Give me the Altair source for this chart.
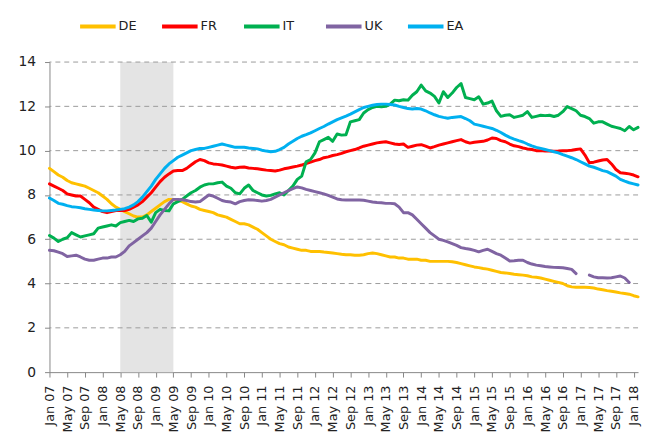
import altair as alt
import pandas as pd

# ---- data (monthly, Jan 2007 .. Feb 2018) ----
series_names = ["DE", "FR", "IT", "UK", "EA"]
series_colors = ["#FFC000", "#FF0000", "#00B050", "#8064A2", "#00B0F0"]
month_abbr = ["Jan", "Feb", "Mar", "Apr", "May", "Jun",
              "Jul", "Aug", "Sep", "Oct", "Nov", "Dec"]
first_year = 7          # 2007
n_months = 134          # Jan 07 .. Feb 18
recession_start = 16    # May 08 (month index)
recession_end = 28      # May 09 (month index)

de = [
    9.2, 9.05, 8.9, 8.8, 8.65, 8.55, 8.5, 8.45, 8.4, 8.3, 8.2, 8.1,
    7.95, 7.8, 7.6, 7.45, 7.35, 7.25, 7.15, 7.05, 7.0, 7.0, 7.1, 7.25,
    7.4, 7.55, 7.7, 7.8, 7.8, 7.75, 7.7, 7.6, 7.5, 7.45, 7.35, 7.3,
    7.25, 7.2, 7.1, 7.05, 7.0, 6.9, 6.8, 6.7, 6.7, 6.65, 6.55, 6.45,
    6.3, 6.15, 6.0, 5.9, 5.8, 5.75, 5.65, 5.6, 5.55, 5.5, 5.5, 5.45,
    5.45, 5.45, 5.42, 5.4, 5.38, 5.35, 5.32, 5.3, 5.3, 5.28, 5.28, 5.3,
    5.35, 5.38, 5.35, 5.3, 5.25, 5.2, 5.2, 5.15, 5.15, 5.1, 5.1, 5.1,
    5.05, 5.05, 5.0, 5.0, 5.0, 5.0, 5.0, 4.98, 4.95, 4.9, 4.85, 4.8,
    4.75, 4.72, 4.68, 4.65, 4.6, 4.55, 4.5, 4.48, 4.45, 4.42, 4.4, 4.38,
    4.35, 4.3, 4.28, 4.25, 4.2, 4.15, 4.1, 4.05, 4.0, 3.9, 3.85, 3.83,
    3.83, 3.83, 3.82, 3.8, 3.75, 3.72, 3.68, 3.65, 3.62, 3.58, 3.55, 3.52,
    3.45, 3.4,
]

fr = [
    8.5, 8.4, 8.3, 8.2, 8.05, 8.0, 7.95, 7.95, 7.8, 7.65, 7.45, 7.35,
    7.25, 7.2, 7.25, 7.3, 7.3, 7.3, 7.35, 7.45, 7.55, 7.7, 7.9, 8.1,
    8.35, 8.6, 8.8, 8.95, 9.08, 9.1, 9.1, 9.2, 9.35, 9.5, 9.6, 9.55,
    9.45, 9.4, 9.38, 9.35, 9.3, 9.25, 9.22, 9.25, 9.26, 9.22, 9.2, 9.18,
    9.15, 9.12, 9.1, 9.08, 9.12, 9.18, 9.22, 9.26, 9.3, 9.35, 9.42, 9.48,
    9.55, 9.6, 9.68, 9.72, 9.78, 9.82, 9.88, 9.95, 10.0, 10.05, 10.12, 10.2,
    10.25, 10.3, 10.35, 10.38, 10.4, 10.35, 10.3, 10.28, 10.3, 10.15, 10.2, 10.25,
    10.27, 10.2, 10.12, 10.18, 10.25, 10.3, 10.35, 10.4, 10.45, 10.5, 10.4, 10.34,
    10.38, 10.4, 10.42, 10.48, 10.57, 10.55, 10.45, 10.4, 10.3, 10.22, 10.18, 10.12,
    10.08, 10.05, 10.0, 10.0, 9.98, 9.98, 9.97, 9.98, 10.0, 10.0, 10.02, 10.05,
    10.08, 9.8, 9.45, 9.48, 9.53, 9.58, 9.6, 9.4, 9.15, 9.0, 8.98, 8.95,
    8.9, 8.82,
]

it = [
    6.17, 6.05, 5.9, 6.0, 6.07, 6.3, 6.2, 6.1, 6.15, 6.2, 6.25, 6.5,
    6.55, 6.6, 6.65, 6.6, 6.75, 6.8, 6.85, 6.8, 6.92, 6.95, 7.07, 6.77,
    7.2, 7.35, 7.3, 7.28, 7.6, 7.7, 7.8, 7.95, 8.1, 8.2, 8.35, 8.45,
    8.5, 8.5, 8.55, 8.58, 8.4, 8.3, 8.1, 8.05, 8.3, 8.45, 8.2, 8.1,
    8.0, 7.95, 7.98, 8.05, 8.1, 8.0, 8.2, 8.4, 8.7, 8.85, 9.5, 9.6,
    9.9, 10.4, 10.5, 10.6, 10.42, 10.75, 10.7, 10.72, 11.3, 11.35, 11.4, 11.7,
    11.85, 11.95, 12.0, 11.98, 12.0, 12.1, 12.28, 12.25, 12.3, 12.28, 12.5, 12.66,
    12.96, 12.7, 12.6, 12.45, 12.15, 12.66, 12.4, 12.6, 12.85, 13.03, 12.4, 12.35,
    12.3, 12.43, 12.1, 12.15, 12.24, 11.8, 11.55, 11.6, 11.62, 11.5, 11.55, 11.6,
    11.76, 11.5, 11.55, 11.6, 11.58, 11.6, 11.54, 11.6, 11.76, 11.99, 11.9, 11.8,
    11.6, 11.54, 11.45, 11.24, 11.3, 11.3, 11.2, 11.1, 11.05, 11.0, 10.9, 11.09,
    10.94, 11.05,
]

uk = [
    5.5, 5.48, 5.42, 5.35, 5.22, 5.25, 5.28, 5.2, 5.1, 5.05, 5.05, 5.1,
    5.15, 5.15, 5.2, 5.2, 5.3, 5.45, 5.7, 5.85, 6.0, 6.15, 6.3, 6.5,
    6.8, 7.1, 7.35, 7.6, 7.8, 7.8, 7.78, 7.75, 7.7, 7.68, 7.7, 7.85,
    8.0, 7.95, 7.85, 7.75, 7.7, 7.68, 7.6, 7.7, 7.75, 7.78, 7.77, 7.75,
    7.72, 7.75, 7.8, 7.9, 8.0, 8.1, 8.2, 8.28, 8.36, 8.32, 8.25, 8.2,
    8.15, 8.1, 8.05, 7.98, 7.9, 7.82, 7.78, 7.77, 7.77, 7.77, 7.77, 7.76,
    7.72, 7.68, 7.66, 7.65, 7.62, 7.62, 7.6, 7.45, 7.2, 7.2, 7.1, 6.9,
    6.7, 6.5, 6.3, 6.15, 6.0, 5.95, 5.88, 5.8, 5.72, 5.62, 5.58, 5.55,
    5.5, 5.43, 5.5, 5.55, 5.45, 5.35, 5.28, 5.15, 5.02, 5.03, 5.05, 5.05,
    4.95, 4.88, 4.83, 4.8, 4.77, 4.75, 4.73, 4.72, 4.71, 4.68, 4.64, 4.45,
    None, None, 4.38, 4.3, 4.26, 4.26, 4.25, 4.26, 4.3, 4.34, 4.25, 4.05,
    None, None,
]

ea = [
    7.86, 7.75, 7.62, 7.58, 7.52, 7.47, 7.45, 7.42, 7.38, 7.35, 7.32, 7.3,
    7.28, 7.28, 7.3, 7.32, 7.35, 7.38, 7.45, 7.55, 7.7, 7.9, 8.15, 8.4,
    8.7, 8.95, 9.2, 9.4, 9.55, 9.7, 9.8, 9.9, 10.0, 10.05, 10.1, 10.1,
    10.15, 10.2, 10.25, 10.3, 10.25, 10.2, 10.15, 10.15, 10.15, 10.12, 10.1, 10.08,
    10.02, 9.98, 9.95, 9.97, 10.05, 10.15, 10.3, 10.42, 10.55, 10.65, 10.72, 10.8,
    10.9, 11.0, 11.09, 11.2, 11.3, 11.4, 11.48, 11.56, 11.65, 11.75, 11.85, 11.95,
    12.0, 12.05, 12.08, 12.1, 12.1, 12.08, 12.06, 12.0, 11.95, 11.9, 11.88, 11.9,
    11.88, 11.8, 11.7, 11.62, 11.55, 11.5, 11.46, 11.5, 11.52, 11.54, 11.45, 11.35,
    11.2, 11.15, 11.1, 11.05, 11.0, 10.92, 10.82, 10.7, 10.6, 10.52, 10.45, 10.39,
    10.3, 10.22, 10.15, 10.1, 10.05, 10.0, 9.95, 9.9, 9.82, 9.75, 9.68, 9.6,
    9.5, 9.4, 9.3, 9.25, 9.18, 9.1, 9.05, 8.95, 8.85, 8.7, 8.62, 8.55,
    8.5, 8.45,
]

y_ticks = [0, 2, 4, 6, 8, 10, 12, 14]
grid_values = [2, 4, 6, 8, 10, 12, 14]
x_ticks = list(range(0, n_months, 4))

# ---- build tables ----
rows = []
for name, vals in zip(series_names, [de, fr, it, uk, ea]):
    for i, v in enumerate(vals):
        rows.append({"month": i, "series": name, "value": v})
df = pd.DataFrame(rows)
df["value"] = pd.to_numeric(df["value"])

band_df = pd.DataFrame({"start": [recession_start], "end": [recession_end],
                        "lo": [y_ticks[0]], "hi": [y_ticks[-1]]})
grid_df = pd.DataFrame({"level": grid_values})

FONT = "DejaVu Sans"
abbr_js = "[" + ",".join("'%s'" % m for m in month_abbr) + "]"
label_expr = (abbr_js + "[datum.value % 12] + ' ' + format(" + str(first_year)
              + " + floor(datum.value / 12), '02d')")

x_scale = alt.Scale(domain=[0, n_months - 1], nice=False, zero=False)
y_scale = alt.Scale(domain=[y_ticks[0], y_ticks[-1]], nice=False)

x_axis = alt.Axis(values=x_ticks, labelExpr=label_expr, labelAngle=270,
                  title=None, grid=False, tickSize=5, labelPadding=8,
                  labelFontSize=13, labelOverlap=False, labelFlush=False,
                  labelBound=False)
y_axis = alt.Axis(values=y_ticks, title=None, grid=False, tickSize=5,
                  labelPadding=9, labelFontSize=14)

band = alt.Chart(band_df).mark_rect(fill="#E4E4E4", strokeWidth=0).encode(
    x=alt.X("start:Q", scale=x_scale, axis=x_axis),
    x2="end:Q",
    y=alt.Y("lo:Q", scale=y_scale, axis=y_axis),
    y2="hi:Q",
)

grid = alt.Chart(grid_df).mark_rule(color="#9A9A9A", strokeWidth=1,
                                    strokeDash=[5, 4]).encode(
    y=alt.Y("level:Q", scale=y_scale, axis=y_axis),
)

lines = alt.Chart(df).mark_line(strokeWidth=3, strokeJoin="round", strokeCap="round").encode(
    x=alt.X("month:Q", scale=x_scale, axis=x_axis),
    y=alt.Y("value:Q", scale=y_scale, axis=y_axis),
    color=alt.Color("series:N",
                    scale=alt.Scale(domain=series_names, range=series_colors),
                    legend=alt.Legend(orient="none", legendX=29, legendY=-56,
                                      direction="horizontal", title=None,
                                      symbolType="stroke", symbolSize=1296,
                                      symbolStrokeWidth=4, labelFontSize=13,
                                      labelOffset=1, columnPadding=17,
                                      gridAlign="all",
                                      labelFont=FONT, labelColor="#222222",
                                      padding=0)),
    detail="series:N",
)

chart = alt.layer(band, grid, lines).properties(
    width=596,
    height=314,
    autosize=alt.AutoSizeParams(type="none"),
    padding={"left": 42, "top": 52, "right": 4, "bottom": 67},
    background="white",
).configure_view(stroke=None).configure_axis(
    labelFont=FONT,
    labelColor="#222222",
    domainColor="#868686",
    tickColor="#868686",
    domainWidth=1,
)

chart.save("out.html", embed_options={"renderer": "svg", "actions": False})
